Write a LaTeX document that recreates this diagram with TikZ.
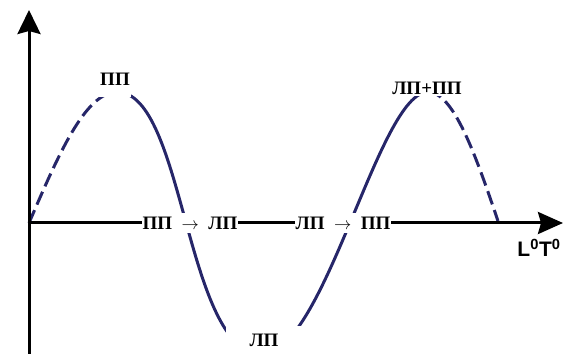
\documentclass[tikz,border=0pt]{standalone}
\usepackage{fontspec}
\setmainfont{Liberation Serif}
\newfontfamily\axisfont{Liberation Sans}
\usepackage{xcolor}
\usetikzlibrary{arrows.meta}
\definecolor{wavecol}{RGB}{38,38,105}

\tikzset{
  wave/.style={draw=wavecol, line width=3pt},
  wavedash/.style={wave, dash pattern=on 14pt off 6pt},
  axisline/.style={line width=3pt, black},
  lab/.style={fill=white, inner sep=1pt, font=\bfseries\fontsize{19}{19}\selectfont},
  trlab/.style={lab, inner xsep=0.5pt, inner ysep=4pt}
}

\begin{document}
\begin{tikzpicture}[x=1pt, y=1pt]
    \useasboundingbox (0,0) rectangle (574,354);

    % wave
    \coordinate (O) at (29,131);
    \coordinate (p1) at (117,262);
    \coordinate (tr) at (262,0);
    \coordinate (p2) at (428,262);
    \coordinate (e) at (498,133);
    \draw[wavedash] (O) .. controls (57.7,197.6) and (85.1,262) .. (p1);
    \draw[wave] (p1) .. controls (185,262) and (185,0) .. (tr)
                     .. controls (324.7,0) and (378.6,262) .. (p2);
    \draw[wavedash] (p2) .. controls (453.7,262) and (475.9,198) .. (e);

    % labels
    \node[lab, anchor=base, text depth=10pt] (pp) at (115,268) {ПП};
    \node[lab, anchor=base] (lppp) at (427,259) {ЛП+ПП};
    \node[lab, anchor=base, text height=20pt, text depth=8pt, minimum width=77pt] (lp) at (264,7) {ЛП};
    \node[trlab] (ppl) at (190,131) {ПП\ \ $\rightarrow$\ \ ЛП};
    \node[trlab] (lpp) at (343,131) {ЛП\ \ $\rightarrow$\ \ ПП};
    \node[anchor=base, inner sep=0pt, font=\axisfont\bfseries\fontsize{21}{21}\selectfont] (lt) at (539,97) {L\textsuperscript{0}T\textsuperscript{0}};

    % axes
    \coordinate (ybot) at (29,0);
    \coordinate (ytop) at (29,344);
    \coordinate (xtip) at (563,131);
    \draw[axisline, -{Stealth[length=24pt, width=23pt, inset=3pt]}] (ybot) -- (ytop);
    \draw[axisline] (O) -- (ppl);
    \draw[axisline] (ppl) -- (lpp);
    \draw[axisline, -{Stealth[length=25pt, width=22pt, inset=3pt]}] (lpp) -- (xtip);
\end{tikzpicture}
\end{document}
